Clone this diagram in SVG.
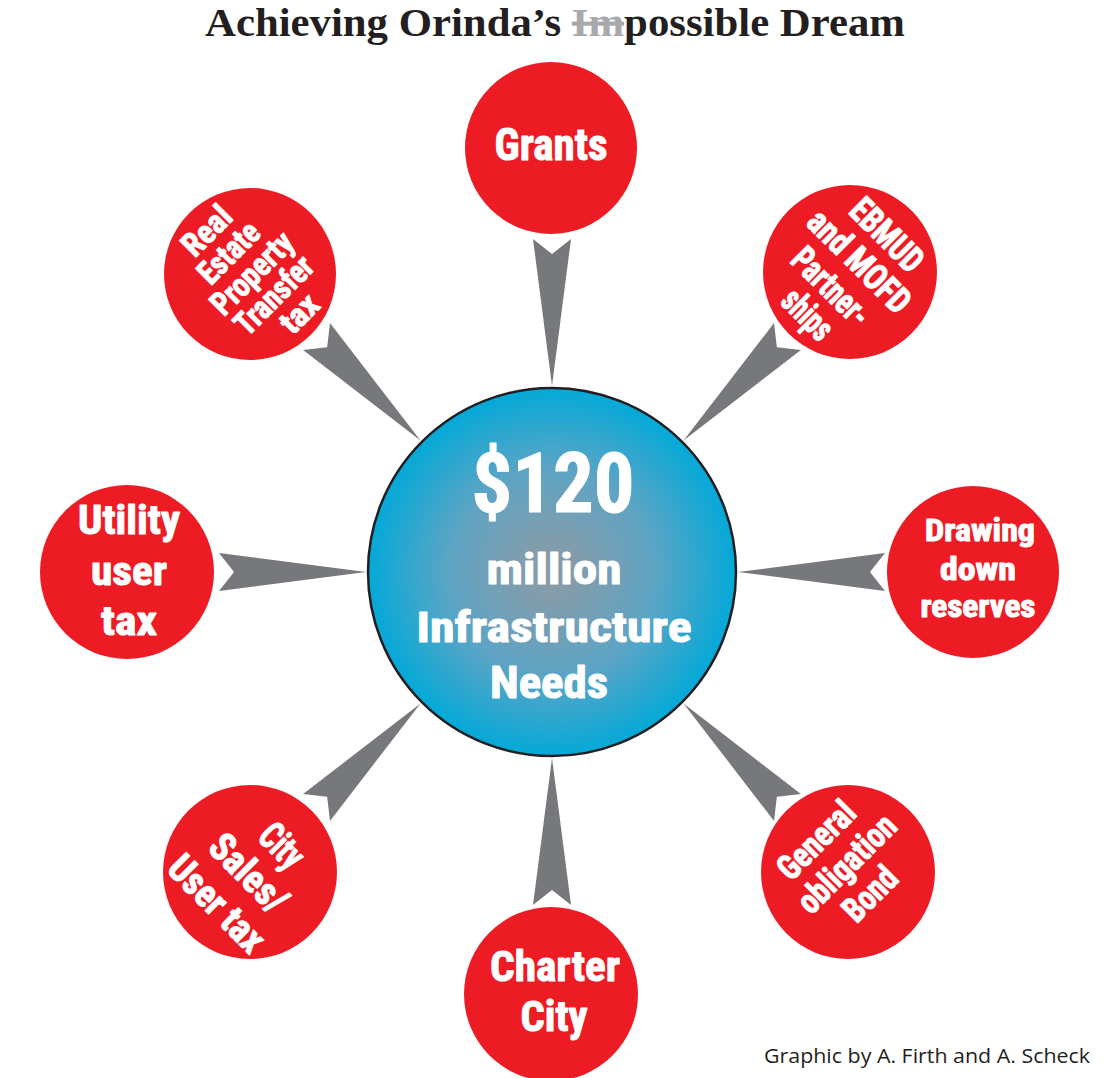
<svg xmlns="http://www.w3.org/2000/svg" width="1105" height="1078" viewBox="0 0 1105 1078">
<style>
.node{fill:#ED1C24}
.lbl{fill:#FFFFFF;stroke:#FFFFFF;stroke-width:1;stroke-linejoin:round;font-family:"Liberation Sans Narrow","Roboto Condensed","Liberation Sans",sans-serif;font-weight:700;text-anchor:middle}
.arrow{fill:#77787B}
.title{font-family:"Liberation Serif","Times New Roman",serif;font-weight:700;fill:#231F20}
.credit{font-family:"Open Sans","Noto Sans","Liberation Sans",sans-serif;fill:#231F20}
</style>
<defs>
<radialGradient id="hub" cx="50%" cy="50%" r="50%">
<stop offset="0" stop-color="#8F99A2"/>
<stop offset="0.55" stop-color="#5FA4C4"/>
<stop offset="1" stop-color="#04A9D8"/>
</radialGradient>
<path id="arr" d="M-19,-333 L0,-318 L19,-333 L0,-186 Z"/>
</defs>
<rect width="1105" height="1078" fill="#FFFFFF"/>
<text class="title" x="555" y="36" font-size="41" text-anchor="middle" textLength="700" lengthAdjust="spacingAndGlyphs">Achieving Orinda’s <tspan fill="#A7A9AC" text-decoration="line-through">Im</tspan>possible Dream</text>
<g id="connectors" class="arrow">
<use href="#arr" transform="translate(552,572) rotate(0)"/>
<use href="#arr" transform="translate(552,572) rotate(45)"/>
<use href="#arr" transform="translate(552,572) rotate(90)"/>
<use href="#arr" transform="translate(552,572) rotate(135)"/>
<use href="#arr" transform="translate(552,572) rotate(180)"/>
<use href="#arr" transform="translate(552,572) rotate(225)"/>
<use href="#arr" transform="translate(552,572) rotate(270)"/>
<use href="#arr" transform="translate(552,572) rotate(315)"/>
</g>
<g id="hub-node">
<circle cx="552" cy="572" r="184" fill="url(#hub)" stroke="#231F20" stroke-width="2.5"/>
<text class="lbl" x="553" y="512" font-size="84" textLength="163" lengthAdjust="spacingAndGlyphs" stroke-width="1.6">$120</text>
<text class="lbl" x="554" y="584" font-size="43" textLength="135" lengthAdjust="spacingAndGlyphs">million</text>
<text class="lbl" x="554" y="642" font-size="43" textLength="275" lengthAdjust="spacingAndGlyphs">Infrastructure</text>
<text class="lbl" x="549" y="698" font-size="44" textLength="118" lengthAdjust="spacingAndGlyphs">Needs</text>
</g>
<g id="grants">
<circle class="node" cx="551" cy="148" r="86"/>
<text class="lbl" x="551" y="160" font-size="44" textLength="113" lengthAdjust="spacingAndGlyphs">Grants</text>
</g>
<g id="ebmud">
<circle class="node" cx="850" cy="272" r="87"/>
<g transform="translate(850,272) rotate(45)">
<text class="lbl" x="0" y="-40" font-size="36" textLength="88" lengthAdjust="spacingAndGlyphs">EBMUD</text>
<text class="lbl" x="-1" y="-2" font-size="36" textLength="130" lengthAdjust="spacingAndGlyphs">and MOFD</text>
<text class="lbl" x="-3" y="36" font-size="36" textLength="95" lengthAdjust="spacingAndGlyphs">Partner-</text>
<text class="lbl" x="0" y="72" font-size="36" textLength="57" lengthAdjust="spacingAndGlyphs">ships</text>
</g>
</g>
<g id="drawing-down">
<circle class="node" cx="973" cy="572" r="86"/>
<text class="lbl" x="980" y="541" font-size="31" textLength="110" lengthAdjust="spacingAndGlyphs">Drawing</text>
<text class="lbl" x="978" y="580" font-size="31" textLength="76" lengthAdjust="spacingAndGlyphs">down</text>
<text class="lbl" x="978" y="617" font-size="31" textLength="115" lengthAdjust="spacingAndGlyphs">reserves</text>
</g>
<g id="go-bond">
<circle class="node" cx="848" cy="872" r="87"/>
<g transform="translate(848,872) rotate(-45)">
<text class="lbl" x="0" y="-33" font-size="35" textLength="95" lengthAdjust="spacingAndGlyphs">General</text>
<text class="lbl" x="5" y="5" font-size="35" textLength="124" lengthAdjust="spacingAndGlyphs">obligation</text>
<text class="lbl" x="0" y="43" font-size="35" textLength="62" lengthAdjust="spacingAndGlyphs">Bond</text>
</g>
</g>
<g id="charter-city">
<circle class="node" cx="551" cy="994" r="87"/>
<text class="lbl" x="555" y="981" font-size="43" textLength="130" lengthAdjust="spacingAndGlyphs">Charter</text>
<text class="lbl" x="554" y="1031" font-size="43" textLength="67" lengthAdjust="spacingAndGlyphs">City</text>
</g>
<g id="city-sales">
<circle class="node" cx="250" cy="872" r="87"/>
<g transform="translate(250,872) rotate(45)">
<text class="lbl" x="4" y="-28" font-size="39" textLength="47" lengthAdjust="spacingAndGlyphs">City</text>
<text class="lbl" x="0" y="15" font-size="39" textLength="94" lengthAdjust="spacingAndGlyphs">Sales/</text>
<text class="lbl" x="-1" y="59" font-size="39" textLength="120" lengthAdjust="spacingAndGlyphs">User tax</text>
</g>
</g>
<g id="utility">
<circle class="node" cx="127" cy="572" r="87"/>
<text class="lbl" x="129" y="534" font-size="41" textLength="102" lengthAdjust="spacingAndGlyphs">Utility</text>
<text class="lbl" x="129" y="585" font-size="41" textLength="76" lengthAdjust="spacingAndGlyphs">user</text>
<text class="lbl" x="129" y="635" font-size="41" textLength="56" lengthAdjust="spacingAndGlyphs">tax</text>
</g>
<g id="real-estate">
<circle class="node" cx="250" cy="274" r="86"/>
<g transform="translate(250,274) rotate(-45)">
<text class="lbl" x="0" y="-50" font-size="33" textLength="56" lengthAdjust="spacingAndGlyphs">Real</text>
<text class="lbl" x="0" y="-19" font-size="33" textLength="73" lengthAdjust="spacingAndGlyphs">Estate</text>
<text class="lbl" x="2" y="12" font-size="33" textLength="102" lengthAdjust="spacingAndGlyphs">Property</text>
<text class="lbl" x="2" y="43" font-size="33" textLength="97" lengthAdjust="spacingAndGlyphs">Transfer</text>
<text class="lbl" x="7" y="74" font-size="33" textLength="41" lengthAdjust="spacingAndGlyphs">tax</text>
</g>
</g>
<text class="credit" x="927" y="1063" font-size="20" text-anchor="middle" textLength="326" lengthAdjust="spacingAndGlyphs">Graphic by A. Firth and A. Scheck</text>
</svg>
